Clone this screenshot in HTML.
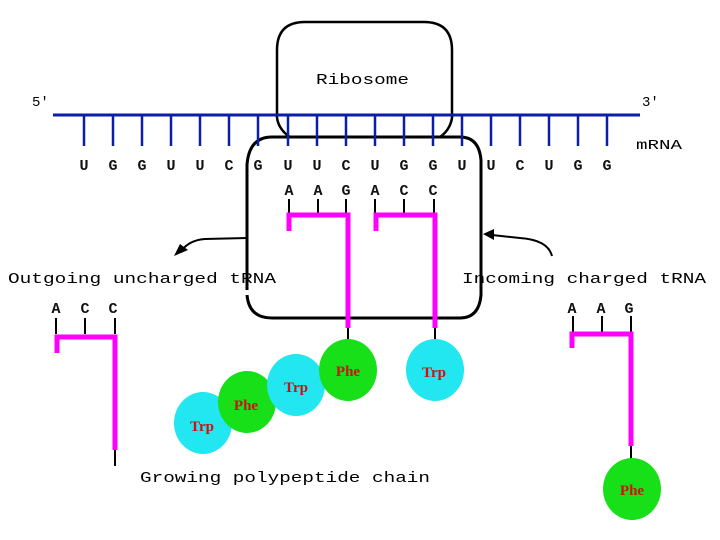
<!DOCTYPE html>
<html><head><meta charset="utf-8"><style>body{margin:0;background:#fff}svg{display:block}</style></head>
<body>
<svg width="720" height="540" viewBox="0 0 720 540" xmlns="http://www.w3.org/2000/svg" font-family="Liberation Mono, monospace" font-size="14">
<rect width="720" height="540" fill="#fff"/>
<!-- ribosome -->
<path d="M277,118 L277,50 Q277,22 305,22 L424,22 Q452,22 452,50 L452,118 Q450,130 440,137" fill="none" stroke="#000" stroke-width="2.5"/>
<path d="M277,118 Q279,130 290,137" fill="none" stroke="#000" stroke-width="2.5"/>
<path d="M247,290 L247,165 Q249,137 272,137 L460,137 Q479,137 481,160 L481,295 Q479,318 460,318 L272,318 Q249,318 247,295" fill="none" stroke="#000" stroke-width="3"/>
<!-- mRNA -->
<line x1="53" y1="115" x2="640" y2="115" stroke="#0b1ea8" stroke-width="3"/>
<g stroke="#0b1ea8" stroke-width="2.5">
<line x1="84" y1="115" x2="84" y2="146"/><line x1="113" y1="115" x2="113" y2="146"/><line x1="142" y1="115" x2="142" y2="146"/><line x1="171" y1="115" x2="171" y2="146"/><line x1="200" y1="115" x2="200" y2="146"/><line x1="229" y1="115" x2="229" y2="146"/><line x1="258" y1="115" x2="258" y2="146"/><line x1="288" y1="115" x2="288" y2="146"/><line x1="317" y1="115" x2="317" y2="146"/><line x1="346" y1="115" x2="346" y2="146"/><line x1="375" y1="115" x2="375" y2="146"/><line x1="404" y1="115" x2="404" y2="146"/><line x1="433" y1="115" x2="433" y2="146"/><line x1="462" y1="115" x2="462" y2="146"/><line x1="491" y1="115" x2="491" y2="146"/><line x1="520" y1="115" x2="520" y2="146"/><line x1="549" y1="115" x2="549" y2="146"/><line x1="578" y1="115" x2="578" y2="146"/><line x1="607" y1="115" x2="607" y2="146"/>
</g>
<g text-anchor="middle" fill="#111" font-size="15" font-weight="bold">
<text x="84" y="170">U</text><text x="113" y="170">G</text><text x="142" y="170">G</text><text x="171" y="170">U</text><text x="200" y="170">U</text><text x="229" y="170">C</text><text x="258" y="170">G</text><text x="288" y="170">U</text><text x="317" y="170">U</text><text x="346" y="170">C</text><text x="375" y="170">U</text><text x="404" y="170">G</text><text x="433" y="170">G</text><text x="462" y="170">U</text><text x="491" y="170">U</text><text x="520" y="170">C</text><text x="549" y="170">U</text><text x="578" y="170">G</text><text x="607" y="170">G</text>
<text x="289" y="195">A</text><text x="318" y="195">A</text><text x="346" y="195">G</text><text x="375" y="195">A</text><text x="404" y="195">C</text><text x="433" y="195">C</text>
<text x="56" y="313">A</text><text x="85" y="313">C</text><text x="113" y="313">C</text>
<text x="572" y="313">A</text><text x="601" y="313">A</text><text x="629" y="313">G</text>
</g>
<text x="32" y="106">5′</text><text x="642" y="106">3′</text>
<text x="636" y="149" textLength="46" lengthAdjust="spacingAndGlyphs">mRNA</text>
<text x="316" y="84" textLength="93" lengthAdjust="spacingAndGlyphs" font-size="15">Ribosome</text>
<!-- arrows -->
<path d="M247,238 L205,239 Q190,240 182,250" fill="none" stroke="#000" stroke-width="2"/>
<polygon points="174,256 180,244 188,250" fill="#000"/>
<path d="M552,256 Q548,240 520,238 L492,235" fill="none" stroke="#000" stroke-width="2"/>
<polygon points="483,234 494,229 494,240" fill="#000"/>
<!-- ticks -->
<g stroke="#000" stroke-width="2">
<line x1="289" y1="199" x2="289" y2="214"/><line x1="318" y1="199" x2="318" y2="214"/><line x1="346" y1="199" x2="346" y2="214"/>
<line x1="375" y1="199" x2="375" y2="214"/><line x1="404" y1="199" x2="404" y2="214"/><line x1="434" y1="199" x2="434" y2="214"/>
<line x1="56" y1="318" x2="56" y2="334"/><line x1="85" y1="318" x2="85" y2="334"/><line x1="115" y1="318" x2="115" y2="334"/>
<line x1="573" y1="316" x2="573" y2="332"/><line x1="602" y1="316" x2="602" y2="332"/><line x1="631" y1="316" x2="631" y2="332"/>
<line x1="348" y1="328" x2="348" y2="342"/><line x1="435" y1="328" x2="435" y2="342"/>
<line x1="115" y1="450" x2="115" y2="466"/><line x1="631" y1="446" x2="631" y2="462"/>
</g>
<!-- magenta -->
<g fill="none" stroke="#ff00ff" stroke-width="5">
<path d="M289,231 L289,215 L348,215 L348,328"/>
<path d="M376,231 L376,215 L435,215 L435,328"/>
<path d="M57,353 L57,337 L115,337 L115,450"/>
<path d="M572,348 L572,334 L631,334 L631,446"/>
</g>
<!-- beads -->
<g font-family="Liberation Serif, serif" font-weight="bold" font-size="15" fill="#d01010" text-anchor="middle">
<ellipse cx="203" cy="423" rx="29" ry="31" fill="#22e6f0"/><text x="202" y="431">Trp</text>
<ellipse cx="247" cy="402" rx="29" ry="31" fill="#18e018"/><text x="246" y="410">Phe</text>
<ellipse cx="296" cy="385" rx="29" ry="31" fill="#22e6f0"/><text x="296" y="392">Trp</text>
<ellipse cx="348" cy="370" rx="29" ry="31" fill="#18e018"/><text x="348" y="376">Phe</text>
<ellipse cx="435" cy="370" rx="29" ry="31" fill="#22e6f0"/><text x="434" y="377">Trp</text>
<ellipse cx="632" cy="489" rx="29" ry="31" fill="#18e018"/><text x="632" y="495">Phe</text>
</g>
<g font-size="15">
<text x="8" y="283" textLength="268" lengthAdjust="spacingAndGlyphs">Outgoing  uncharged  tRNA</text>
<text x="462" y="283" textLength="244" lengthAdjust="spacingAndGlyphs">Incoming  charged  tRNA</text>
<text x="140" y="482" textLength="290" lengthAdjust="spacingAndGlyphs">Growing  polypeptide  chain</text>
</g>
</svg>
</body></html>
